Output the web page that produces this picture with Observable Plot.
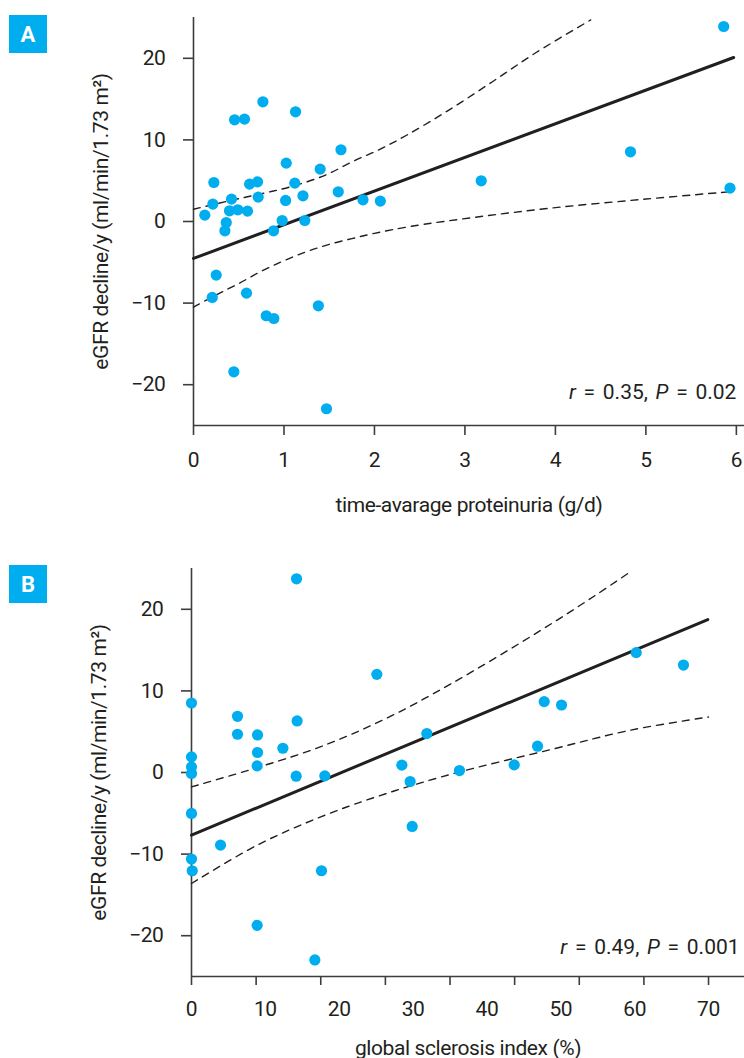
<!DOCTYPE html>
<html><head><meta charset="utf-8">
<script src="https://cdn.jsdelivr.net/npm/d3@7"></script>
<script src="https://cdn.jsdelivr.net/npm/@observablehq/plot@0.6"></script>
<style>
html,body{margin:0;padding:0;background:#fff;}
body{width:744px;height:1058px;overflow:hidden;}
.panel{position:relative;width:744px;}
.panel svg{display:block;}
.panel svg text{letter-spacing:-0.4px;}
.panel svg text.ann{letter-spacing:0;word-spacing:2.5px;}
.badge{position:absolute;left:9px;width:38px;height:38px;background:#00aeef;color:#fff;
  font:bold 22px Roboto,"Liberation Sans",sans-serif;
  display:flex;align-items:center;justify-content:center;}
</style></head><body>
<div id="A" class="panel"><div class="badge" style="top:15px">A</div></div>
<div id="B" class="panel"><div class="badge" style="top:14px">B</div></div>
<script>
// ---------- data ----------
const yTicks = [-20, -10, 0, 10, 20];
const yLabel = "eGFR decline/y (ml/min/1.73 m²)";

// Panel A
const xTicksA = [0, 1, 2, 3, 4, 5, 6];
const xLabelA = "time-avarage proteinuria (g/d)";
const protA = [0.767,0.454,0.564,1.128,1.63,1.025,1.40,0.225,0.62,0.708,1.12,0.214,0.42,0.715,1.018,1.21,1.60,1.873,2.065,0.125,0.398,0.49,0.597,0.362,0.347,0.885,0.98,1.23,0.251,0.207,0.586,1.38,0.804,0.888,0.446,1.47,5.86,4.83,3.18,5.93];
const gfrA  = [14.67,12.46,12.55,13.44,8.79,7.15,6.42,4.78,4.58,4.86,4.7,2.13,2.74,2.99,2.58,3.15,3.64,2.66,2.5,0.78,1.31,1.43,1.27,-0.12,-1.14,-1.14,0.12,0.12,-6.57,-9.31,-8.78,-10.33,-11.55,-11.89,-18.42,-22.95,23.9,8.54,4.99,4.09];
const fitAx = [0, 5.97];
const fitAy = [-4.53, 20.1];
const upAx = [0, 0.42, 0.75, 1.07, 1.44, 1.77, 2.07, 2.36, 2.8, 3.3, 3.8, 4.39];
const upAy = [1.5, 2.6, 3.4, 4.25, 5.6, 7.4, 8.9, 10.6, 13.5, 17.1, 20.8, 24.7];
const loAx = [0, 0.25, 0.5, 0.75, 1.0, 1.25, 1.5, 1.75, 2.0, 2.4, 3.1, 4.0, 5.0, 5.92];
const loAy = [-10.5, -9.0, -7.6, -6.1, -4.8, -3.7, -2.8, -2.1, -1.45, -0.6, 0.5, 1.7, 2.75, 3.64];
const annA = "r = 0.35, P = 0.02";

// Panel B
const xLabelsB = [0, 10, 20, 30, 40, 50, 60, 70];
const xTickMarksB = [0, 8.75, 17.5, 26.25, 35, 43.75, 52.5, 61.25, 70];
const xLabelB = "global sclerosis index (%)";
const sclB = [14.22,25.09,0,6.23,14.3,6.23,8.94,31.86,12.37,8.94,0,0,0,8.89,14.17,18.05,28.48,29.6,36.28,29.88,0,3.93,0,0.1,17.6,8.89,16.7,60.21,66.61,47.75,50.1,46.85,43.69];
const gfrB = [23.74,12.03,8.52,6.89,6.32,4.69,4.6,4.77,2.97,2.45,1.91,0.69,-0.12,0.81,-0.45,-0.41,0.9,-1.1,0.24,-6.61,-5.02,-8.9,-10.61,-12.04,-12.04,-18.73,-22.97,14.69,13.17,8.69,8.27,3.22,0.93];
const fitBx = [0, 69.9];
const fitBy = [-7.67, 18.73];
const upBx = [0, 8.9, 17.6, 26.3, 35, 47.25, 54.5, 59.1];
const upBy = [-1.76, 0.6, 3.2, 6.6, 10.8, 17.4, 21.6, 24.4];
const loBx = [0, 8.9, 17.6, 26.3, 36, 48.6, 59.4, 70];
const loBy = [-13.6, -8.9, -5.4, -2.6, 0.0, 2.8, 5.18, 6.8];
const annB = "r = 0.49, P = 0.001";

// ---------- style ----------
const font = 'Roboto,"Liberation Sans",sans-serif';
const ink = "#231f20";
const axisInk = "#3d3d3d";
const dotColor = "#00aeef";
const style = {fontFamily: font, fontSize: "21px", color: ink, background: "white"};

function common(xs, ys, fx, fy, ux, uy, lx, ly, ann, annX, annY) {
  return [
    Plot.ruleX([0], {stroke: axisInk, strokeWidth: 1.6}),
    Plot.ruleY([-25], {stroke: axisInk, strokeWidth: 1.6}),
    Plot.line(ux, {x: ux, y: uy, curve: "catmull-rom", stroke: ink, strokeWidth: 1.4, strokeDasharray: "7,6"}),
    Plot.line(lx, {x: lx, y: ly, curve: "catmull-rom", stroke: ink, strokeWidth: 1.4, strokeDasharray: "7,6"}),
    Plot.line(fx, {x: fx, y: fy, stroke: ink, strokeWidth: 3}),
    Plot.dot(xs, {x: xs, y: ys, r: 5.6, fill: dotColor, stroke: "none"}),
    Plot.text([ann], {x: annX, y: annY, text: d => d, textAnchor: "end", fill: ink, fontSize: 21})
  ];
}

function yAxis() {
  return Plot.axisY({ticks: yTicks, tickSize: 10, tickPadding: 18, stroke: axisInk, strokeWidth: 1.6,
    label: yLabel, labelAnchor: "center", labelOffset: 100, labelArrow: "none"});
}

function italicize(svg, ann) {
  d3.select(svg).selectAll("text").filter(function() { return this.textContent === ann; }).each(function() {
    const m = ann.match(/^r( = [^,]+, )P( = .+)$/);
    const t = d3.select(this).classed("ann", true);
    t.text(null);
    t.append("tspan").attr("font-style", "italic").text("r");
    t.append("tspan").text(m[1]);
    t.append("tspan").attr("font-style", "italic").text("P");
    t.append("tspan").text(m[2]);
  });
}

const chartA = Plot.plot({
  width: 744, height: 551, marginTop: 17, marginBottom: 126, marginLeft: 193, marginRight: 0,
  style,
  x: {domain: [0, 6.09]},
  y: {domain: [-25, 25]},
  marks: [
    yAxis(),
    Plot.axisX({ticks: xTicksA, tickFormat: "d", tickSize: 10, tickPadding: 17, stroke: axisInk, strokeWidth: 1.6,
      label: xLabelA, labelAnchor: "center", labelOffset: 86, labelArrow: "none"}),
    ...common(protA, gfrA, fitAx, fitAy, upAx, upAy, loAx, loAy, annA, 6, -20.9)
  ]
});
italicize(chartA, annA);
document.getElementById("A").prepend(chartA);

const chartB = Plot.plot({
  width: 744, height: 507, marginTop: 17, marginBottom: 82, marginLeft: 191, marginRight: 0,
  style,
  x: {domain: [0, 74.87]},
  y: {domain: [-25, 25]},
  marks: [
    yAxis(),
    Plot.axisX({ticks: xTickMarksB, tickSize: 9, tickFormat: () => "", stroke: axisInk, strokeWidth: 1.6, label: null}),
    Plot.axisX({ticks: xLabelsB, tickFormat: "d", tickSize: 0, tickPadding: 25, stroke: axisInk,
      label: xLabelB, labelAnchor: "center", labelOffset: 78, labelArrow: "none"}),
    ...common(sclB, gfrB, fitBx, fitBy, upBx, upBy, loBx, loBy, annB, 74.2, -21.4)
  ]
});
italicize(chartB, annB);
document.getElementById("B").prepend(chartB);
</script>
</body></html>
